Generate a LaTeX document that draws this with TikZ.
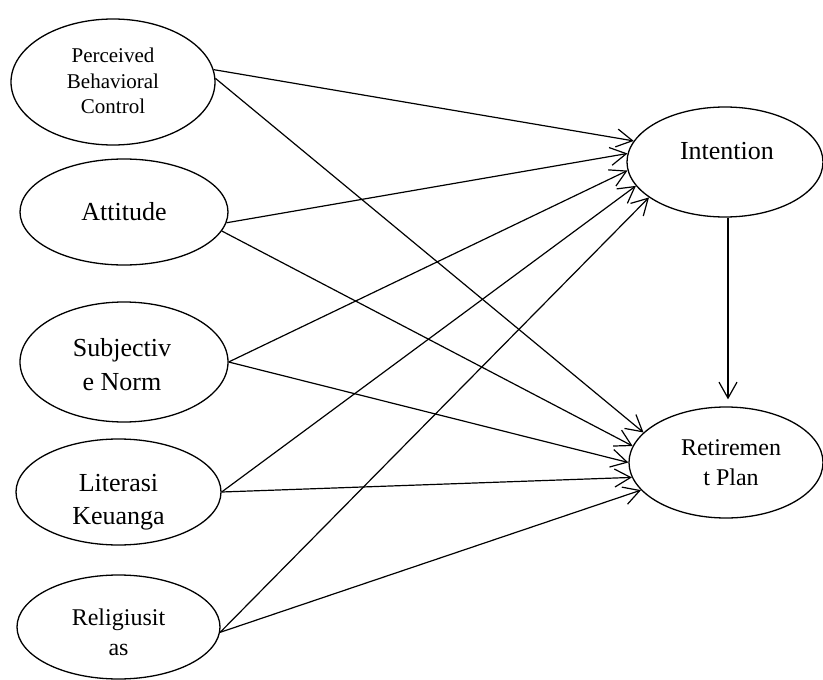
\documentclass[tikz,border=0pt]{standalone}
\usepackage{fontspec}
\setmainfont{Liberation Serif}
\usetikzlibrary{shapes.geometric,arrows.meta}
\begin{document}
\begin{tikzpicture}[x=1pt,y=-1pt,
  var/.style={ellipse,draw,line width=1.3pt,inner sep=0pt},
  txt/.style={align=center,inner sep=0pt},
  arr/.style={line width=1.2pt,-{Straight Barb[length=16pt,width=18pt,line width=1.2pt]}}]
\useasboundingbox (0,0) rectangle (823,680);
\node[var,minimum width=204pt,minimum height=126pt,
  label={[txt,font=\fontsize{21}{25.5}\selectfont,yshift=1pt]center:Perceived\\Behavioral\\Control}] (pbc) at (113,82) {};
\node[var,minimum width=208pt,minimum height=106pt,
  label={[txt,font=\fontsize{26}{33}\selectfont]center:Attitude}] (att) at (124,212) {};
\node[var,minimum width=208pt,minimum height=120pt,
  label={[txt,font=\fontsize{26}{34}\selectfont,xshift=-2pt,yshift=-3pt]center:Subjectiv\\e Norm}] (subj) at (124,362) {};
\node[var,minimum width=205pt,minimum height=106pt,
  label={[txt,font=\fontsize{26}{33}\selectfont,yshift=-10pt]center:Literasi\\Keuanga}] (lit) at (118.5,492) {};
\node[var,minimum width=203pt,minimum height=104pt,
  label={[txt,font=\fontsize{24}{30}\selectfont,yshift=-5pt]center:Religiusit\\as}] (rel) at (118.5,627) {};
\node[var,minimum width=196pt,minimum height=110pt,
  label={[txt,font=\fontsize{26}{33}\selectfont,xshift=2pt,yshift=11pt]center:Intention}] (int) at (725,162) {};
\node[var,minimum width=194pt,minimum height=111pt,
  label={[txt,font=\fontsize{24}{30}\selectfont,xshift=5pt]center:Retiremen\\t Plan}] (ret) at (726,462.5) {};
\draw[arr] (pbc.7) -- (int.167);
\draw[arr] (pbc.2) -- (ret.160);
\draw[arr] (att.-6) -- (int.175);
\draw[arr] (att.-11) -- (ret.170);
\draw[arr] (subj.0) -- (int.-175);
\draw[arr] (subj.0) -- (ret.180);
\draw[arr] (lit.0) -- (int.195);
\draw[arr] (lit.0) -- (ret.189);
\draw[arr] (rel.-3) -- (int.205);
\draw[arr] (rel.-3) -- (ret.198);
\draw[arr,shorten >=7pt] ([xshift=3pt]int.south) -- ([xshift=2pt]ret.north);
\end{tikzpicture}
\end{document}
